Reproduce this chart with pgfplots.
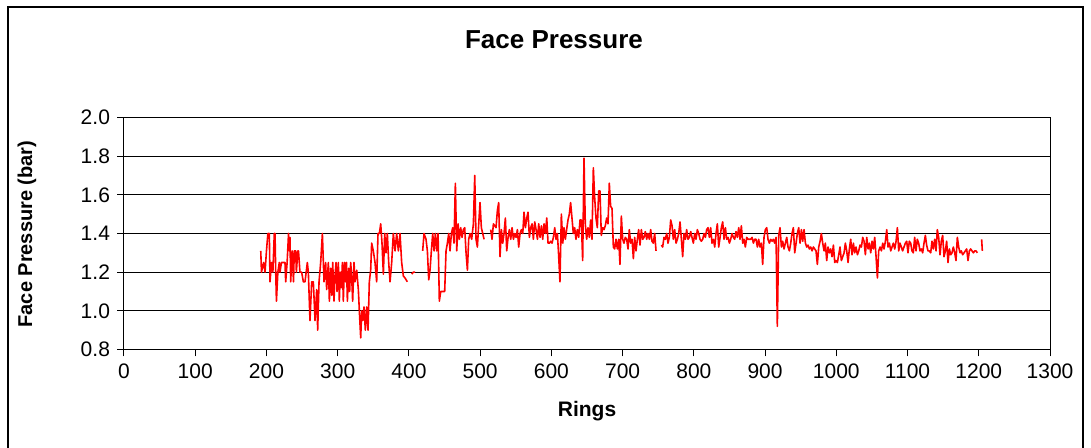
\documentclass[border=0pt]{standalone}
\usepackage{pgfplots}
\pgfplotsset{compat=1.18}
\usepackage{pgfplotstable}
\usepackage{fontspec}
\setmainfont{Liberation Sans}
\pgfplotstableread{
x y
192 1.31
193 1.20
196 1.25
198 1.20
200 1.31
202 1.40
204 1.40
205 1.15
207 1.25
209 1.20
211 1.40
212 1.40
213 1.20
214 1.05
216 1.20
218 1.25
219 1.20
221 1.25
224 1.25
226 1.25
227 1.15
229 1.25
231 1.40
232 1.31
233 1.38
234 1.15
236 1.31
238 1.15
239 1.31
241 1.31
242 1.20
244 1.31
245 1.31
247 1.20
249.4 1.20
251.8 1.15
254.1 1.15
257.4 1.25
258.8 1.20
261.1 0.95
263.5 1.15
265.8 1.15
268.2 0.95
270.5 1.11
271.9 0.90
273.8 1.15
276.1 1.25
278.5 1.40
280.8 1.15
283.1 1.25
284.5 1.11
286.9 1.25
288.3 1.05
290.2 1.22
291.6 1.08
293.0 1.25
294.8 1.05
296.2 1.18
297.7 1.25
299.1 1.10
300.9 1.25
302.3 1.05
303.6 1.20
305.2 1.12
306.6 1.25
307.9 1.05
309.5 1.25
311.0 1.15
312.3 1.25
313.6 1.05
315.4 1.22
316.8 1.10
318.2 1.25
319.6 1.18
321.0 1.05
322.9 1.25
324.3 1.15
326.7 1.21
329.0 1.11
330.4 1.00
332.3 0.86
333.7 1.00
335.1 0.95
337.0 1.02
338.8 0.90
340.7 1.02
342.6 0.90
344.4 1.15
346.3 1.21
347.7 1.35
350.0 1.31
352.4 1.25
354.7 1.15
356.6 1.40
358.5 1.40
360.4 1.45
362.2 1.35
364.1 1.19
366.0 1.40
367.8 1.30
369.7 1.40
371.6 1.25
373.5 1.15
375.8 1.25
378.1 1.40
380.5 1.31
382.8 1.40
385.2 1.31
387.5 1.40
389.8 1.25
392.2 1.18
394.5 1.17
397.8 1.15
400.5 nan
403.9 1.19
406.2 1.20
408.6 1.20
414 nan
419.3 1.31
421.2 1.40
424.0 1.37
425.9 1.31
427.8 1.16
429.6 1.21
431.5 1.31
433.4 1.40
435.3 1.31
437.1 1.40
439.0 1.31
440.9 1.40
442.7 1.05
444.6 1.10
448.4 1.10
450.2 1.10
452.1 1.31
454.0 1.35
455.9 1.40
457.7 1.31
459.6 1.40
461.5 1.43
463.3 1.35
465.2 1.66
467.1 1.31
469.0 1.45
470.8 1.37
472.7 1.43
474.6 1.38
476.4 1.42
478.3 1.43
480.2 1.30
482.1 1.21
483.9 1.37
485.8 1.40
488.1 1.37
490.5 1.45
492.4 1.70
494.2 1.37
496.1 1.33
498.0 1.45
499.8 1.56
501.7 1.43
503.6 1.40
505.5 1.37
510 nan
514.8 1.42
516.7 1.37
518.6 1.45
520.4 1.44
522.3 1.43
524.2 1.52
526.0 1.56
527.9 1.28
529.8 1.42
531.7 1.35
533.5 1.40
535.4 1.48
537.3 1.31
539.2 1.38
541.0 1.42
542.9 1.37
544.8 1.43
546.7 1.37
548.5 1.40
550.4 1.38
552.3 1.42
554.1 1.33
556.0 1.40
557.9 1.42
559.8 1.40
561.6 1.51
563.5 1.43
565.4 1.48
567.2 1.51
569.1 1.38
571.0 1.43
572.9 1.45
574.7 1.37
576.6 1.46
578.5 1.42
580.4 1.37
582.2 1.45
584.1 1.38
586.0 1.44
587.8 1.37
589.7 1.45
591.6 1.40
593.5 1.48
595.3 1.35
597.2 1.35
599.0 1.36
600.9 1.35
602.8 1.38
604.7 1.43
606.5 1.37
608.4 1.40
610.0 1.30
612.0 1.15
614.0 1.50
616.0 1.35
617.7 1.43
619.6 1.37
621.4 1.42
623.3 1.47
625.2 1.50
627.0 1.56
628.9 1.48
630.8 1.40
632.7 1.43
634.5 1.37
636.4 1.42
638.3 1.38
640.2 1.47
642.0 1.47
643.9 1.26
645.8 1.79
647.6 1.45
649.5 1.37
651.4 1.43
653.3 1.38
655.1 1.47
657.0 1.37
658.9 1.74
660.7 1.59
662.6 1.48
664.5 1.43
666.4 1.62
668.2 1.62
670.1 1.39
672.0 1.43
673.9 1.42
675.7 1.44
677.6 1.48
679.5 1.45
681.3 1.66
683.2 1.54
685.1 1.53
687.0 1.33
688.8 1.32
690.7 1.37
692.6 1.32
694.5 1.37
696.3 1.24
698.2 1.49
700.1 1.37
701.9 1.35
703.8 1.38
705.7 1.37
707.6 1.32
709.4 1.42
711.3 1.35
713.2 1.37
715.1 1.27
716.9 1.38
718.8 1.31
720.7 1.37
722.5 1.42
724.4 1.34
726.3 1.42
728.2 1.37
730.0 1.38
731.9 1.41
733.8 1.37
735.6 1.40
737.5 1.37
739.4 1.42
741.2 1.36
743.1 1.35
745.0 1.40
746.9 1.31
750 nan
754.4 1.34
756.2 1.33
758.1 1.38
759.9 1.37
761.9 1.40
763.7 1.35
765.6 1.38
767.5 1.47
769.4 1.44
771.2 1.37
773.1 1.42
775.0 1.35
776.9 1.37
778.7 1.40
780.6 1.46
782.5 1.37
784.3 1.28
786.2 1.40
788.1 1.37
789.9 1.42
791.8 1.37
793.7 1.38
795.6 1.41
797.4 1.38
799.3 1.35
801.2 1.40
803.1 1.37
804.9 1.42
806.8 1.40
808.7 1.37
810.5 1.36
812.4 1.37
814.3 1.40
816.2 1.38
818.0 1.42
819.9 1.43
821.8 1.38
823.6 1.43
825.5 1.35
827.4 1.37
829.3 1.33
831.1 1.40
833.0 1.45
834.9 1.33
836.8 1.38
838.6 1.43
840.5 1.46
842.4 1.37
844.3 1.43
846.1 1.37
848.0 1.38
849.9 1.35
851.7 1.37
853.6 1.40
855.5 1.38
857.3 1.37
859.2 1.41
861.1 1.38
863.0 1.43
864.8 1.37
866.7 1.44
868.6 1.35
870.4 1.37
872.3 1.33
874.2 1.38
876.1 1.37
877.9 1.37
879.8 1.37
881.7 1.38
883.6 1.35
885.4 1.37
887.3 1.37
889.2 1.33
891.0 1.37
892.9 1.33
894.8 1.35
896.6 1.24
898.5 1.38
900.4 1.42
902.3 1.43
904.1 1.37
906.0 1.35
907.9 1.37
909.8 1.36
911.6 1.37
913.5 1.35
915.4 1.38
917.2 0.92
919.1 1.39
921.0 1.43
922.9 1.33
924.7 1.36
926.6 1.32
928.5 1.35
930.4 1.38
932.2 1.33
934.1 1.31
936.0 1.35
937.8 1.40
939.7 1.43
941.6 1.30
943.5 1.35
945.3 1.40
947.2 1.43
949.1 1.35
951.0 1.42
952.8 1.36
954.7 1.42
956.6 1.35
958.4 1.33
960.3 1.34
962.2 1.32
964.1 1.33
966.0 1.31
967.8 1.33
969.7 1.32
971.5 1.31
973.4 1.24
975.3 1.33
977.2 1.36
979.0 1.40
980.9 1.35
982.8 1.31
984.6 1.35
986.5 1.26
988.4 1.33
990.3 1.30
992.1 1.32
994.0 1.28
995.9 1.34
997.8 1.25
999.6 1.26
1001.5 1.25
1003.4 1.29
1005.2 1.33
1007.1 1.26
1009.0 1.28
1010.9 1.30
1012.7 1.35
1014.6 1.31
1016.5 1.25
1018.3 1.32
1020.2 1.37
1022.1 1.29
1024.0 1.35
1025.8 1.30
1027.7 1.33
1029.6 1.29
1031.5 1.31
1033.3 1.34
1035.2 1.33
1037.1 1.38
1038.9 1.36
1040.8 1.29
1042.7 1.38
1044.6 1.32
1046.4 1.35
1048.3 1.30
1050.2 1.36
1052.0 1.32
1053.9 1.38
1055.8 1.28
1057.7 1.17
1059.5 1.31
1061.4 1.33
1063.3 1.31
1065.2 1.35
1067.0 1.32
1068.9 1.36
1070.8 1.42
1072.6 1.33
1074.5 1.35
1076.4 1.31
1078.2 1.33
1080.1 1.35
1082.0 1.32
1083.9 1.36
1085.7 1.43
1087.6 1.31
1089.4 1.35
1091.3 1.33
1093.1 1.31
1095.0 1.33
1096.9 1.35
1098.8 1.36
1100.6 1.30
1102.5 1.36
1104.4 1.35
1106.2 1.31
1108.1 1.30
1110.0 1.38
1111.9 1.31
1113.7 1.37
1115.6 1.35
1117.5 1.31
1119.4 1.32
1121.2 1.30
1123.1 1.35
1125.0 1.39
1126.8 1.34
1128.7 1.31
1130.6 1.31
1132.5 1.30
1134.3 1.36
1136.2 1.32
1138.1 1.37
1140.0 1.31
1141.8 1.42
1143.7 1.38
1145.6 1.29
1147.4 1.36
1149.3 1.39
1151.2 1.28
1153.1 1.31
1154.9 1.36
1156.8 1.25
1158.7 1.32
1160.6 1.29
1162.4 1.30
1164.3 1.33
1166.2 1.30
1168.0 1.26
1169.9 1.38
1171.8 1.33
1173.7 1.30
1175.5 1.31
1177.4 1.29
1179.3 1.30
1181.1 1.31
1183.0 1.32
1184.9 1.26
1186.8 1.31
1188.6 1.32
1190.5 1.31
1192.4 1.30
1194.3 1.31
1196.1 1.31
1198.0 1.30
1201 nan
1204.0 1.37
1205.0 1.31
}\facedata
\begin{document}
\begin{tikzpicture}
\useasboundingbox (-62pt,-49.25pt) rectangle (483.5pt,174.75pt);
\draw[line width=0.7pt] (-58pt,-60pt) -- (-58pt,171.25pt) -- (479.5pt,171.25pt) -- (479.5pt,-60pt);
\begin{axis}[
  at={(0pt,0pt)}, anchor=south west,
  scale only axis, width=463pt, height=116pt,
  xmin=0, xmax=1300, ymin=0.8, ymax=2.0,
  xtick={0,100,...,1300}, ytick={0.8,1.0,...,2.0},
  ymajorgrids, major grid style={black, line width=0.5pt},
  axis line style={black, line width=0.5pt},
  tick align=outside, major tick length=3.5pt,
  tick style={black, line width=0.5pt},
  xtick pos=bottom, ytick pos=left,
  unbounded coords=jump,
  /pgf/number format/assume math mode=true,
  xticklabel style={font=\fontsize{10.5}{12}\selectfont, /pgf/number format/1000 sep={}},
  yticklabel style={font=\fontsize{10.5}{12}\selectfont, /pgf/number format/fixed, /pgf/number format/fixed zerofill, /pgf/number format/precision=1},
]
\addplot[red, line width=0.8pt, line join=round] table[x=x,y=y] {\facedata};
\end{axis}
\node[font=\fontsize{13}{15}\selectfont\bfseries] at (215pt,154.75pt) {Face Pressure};
\node[font=\fontsize{10}{12}\selectfont\bfseries, rotate=90] at (-48.5pt,57.75pt) {Face Pressure (bar)};
\node[font=\fontsize{10.5}{12}\selectfont\bfseries] at (231.5pt,-30.75pt) {Rings};
\end{tikzpicture}
\end{document}
